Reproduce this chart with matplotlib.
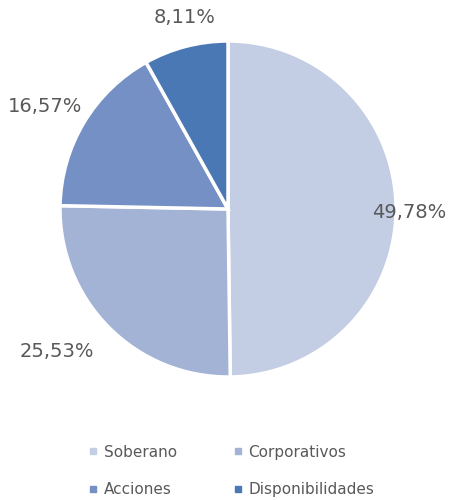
import numpy as np
import matplotlib.pyplot as plt
from matplotlib.lines import Line2D

labels = ["Soberano", "Corporativos", "Acciones", "Disponibilidades"]
values = [49.78, 25.53, 16.57, 8.11]
pct_text = ["49,78%", "25,53%", "16,57%", "8,11%"]
colors = ["#C3CDE3", "#A3B3D6", "#7490C4", "#4A78B4"]
# label positions in pie-radius units (Excel "best fit" placement)
label_pos = [(1.08, -0.02), (-1.02, -0.85), (-1.09, 0.61), (-0.26, 1.14)]

plt.rcParams['font.family'] = ['DejaVu Sans']

fig = plt.figure(figsize=(4.52, 5.0), dpi=100)
ax = fig.add_axes([60 / 452, 123 / 500, 336 / 452, 336 / 500])

wedges, _ = ax.pie(values, colors=colors, startangle=90, counterclock=False,
                   radius=1, wedgeprops=dict(edgecolor='white', linewidth=2.5))
ax.set_xlim(-1, 1)
ax.set_ylim(-1, 1)
ax.set_aspect('equal')
ax.axis('off')

for (x, y), txt in zip(label_pos, pct_text):
    ax.text(x, y, txt, ha='center', va='center',
            fontsize=14, color='#595959', clip_on=False)

handles = [Line2D([], [], marker='s', linestyle='', markersize=5,
                  markerfacecolor=c, markeredgecolor=c) for c in colors]
order = [0, 2, 1, 3]
fig.legend([handles[i] for i in order], [labels[i] for i in order],
           loc='center', bbox_to_anchor=(0.51, 0.058), ncol=2,
           frameon=False, fontsize=11, labelcolor='#595959', handletextpad=0.3,
           columnspacing=3.6, labelspacing=1.5, handlelength=0.8)

fig.savefig("out.png", dpi=100)
